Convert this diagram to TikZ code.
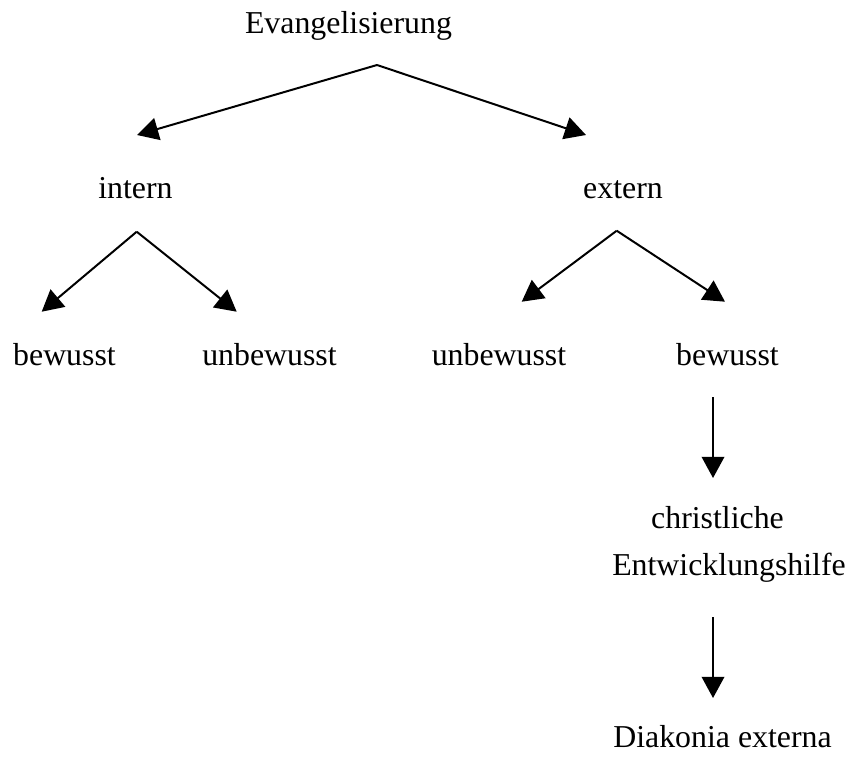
\documentclass[tikz,border=0pt]{standalone}
\usepackage{fontspec}
\setmainfont{Liberation Serif}
\usetikzlibrary{arrows.meta}
\tikzset{
    word/.style={anchor=base,inner sep=0,font=\fontsize{12}{14}\selectfont},
    pointer/.style={-{Triangle[length=8pt,width=8.5pt]},line width=0.75pt},
}
\newcommand{\fork}[3] {
    \draw[pointer] (#1) -- (#2);
    \draw[pointer] (#1) -- (#3);
}

\begin{document}
\begin{tikzpicture}[x=0.3768pt,y=-0.3768pt]
    \useasboundingbox (0,0) rectangle (850,756);
    % words
    \node[word] (evangel) at (348.5,33) {Evangelisierung};
    \node[word] (intern) at (135.5,198) {intern};
    \node[word] (extern) at (623,198) {extern};
    \node[word] (in-bew) at (64.5,365) {bewusst};
    \node[word] (in-unb) at (269.5,365) {unbewusst};
    \node[word] (ex-unb) at (499,365) {unbewusst};
    \node[word] (ex-bew) at (727.5,365) {bewusst};
    \node[word] (christ) at (717.5,528) {christliche};
    \node[word] (entw) at (729,575) {Entwicklungshilfe};
    \node[word] (diakonia) at (722.5,747) {Diakonia externa};
    % fork points and tips
    \coordinate (ev-fork) at (377,65);
    \coordinate (intern-tip) at (137,135);
    \coordinate (extern-tip) at (586,135);
    \coordinate (in-fork) at (136.7,231.7);
    \coordinate (in-bew-tip) at (41.7,311.7);
    \coordinate (in-unb-tip) at (236.7,311.7);
    \coordinate (ex-fork) at (616.7,230.7);
    \coordinate (ex-unb-tip) at (521.7,301.7);
    \coordinate (ex-bew-tip) at (725,301.7);
    \coordinate (bew-start) at (713,397);
    \coordinate (christ-tip) at (713,478);
    \coordinate (entw-start) at (713,617);
    \coordinate (diakonia-tip) at (713,698);
    % arrows
    \fork{ev-fork}{intern-tip}{extern-tip}
    \fork{in-fork}{in-bew-tip}{in-unb-tip}
    \fork{ex-fork}{ex-unb-tip}{ex-bew-tip}
    \draw[pointer] (bew-start) -- (christ-tip);
    \draw[pointer] (entw-start) -- (diakonia-tip);
\end{tikzpicture}
\end{document}
